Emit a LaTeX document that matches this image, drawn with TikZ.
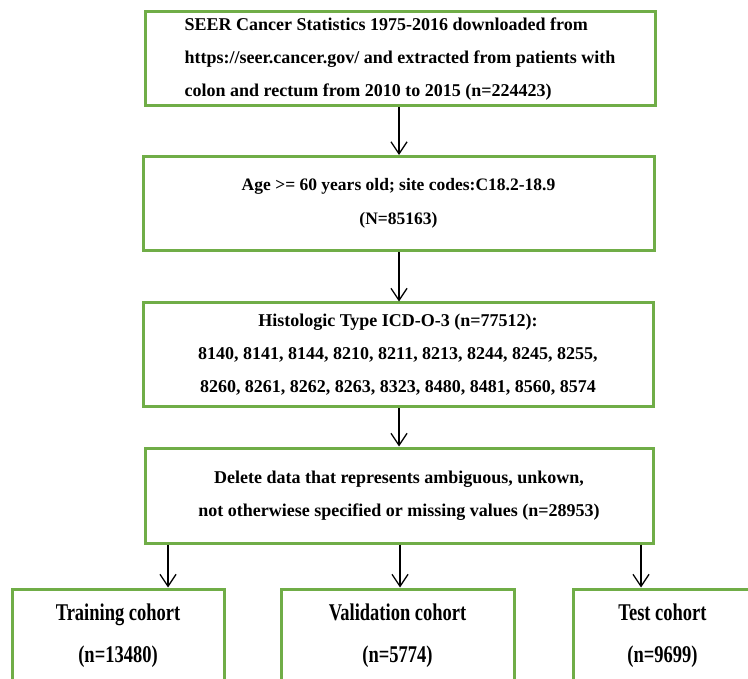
\documentclass[tikz,border=0pt]{standalone}
\usepackage{fontspec}
\setmainfont{Liberation Serif}
\newfontfamily\condfont[FakeStretch=0.77]{Liberation Serif}
\usetikzlibrary{positioning,arrows.meta}
\definecolor{boxgreen}{RGB}{112,173,71}
\tikzset{
  flowarrow/.style={-{Straight Barb[length=12pt,width=16pt]}, line width=1.3pt},
  stepbox/.style={draw=boxgreen, line width=3pt, fill=white, minimum height=94pt, inner sep=0pt, align=center, font=\bfseries\fontsize{18}{33}\selectfont},
  cohortbox/.style={draw=boxgreen, line width=3pt, fill=white, minimum height=94pt, inner sep=0pt, align=center, font=\condfont\bfseries\fontsize{24}{42}\selectfont}
}
\begin{document}
\begin{tikzpicture}[x=1pt, y=-1pt]
      \useasboundingbox (0,0) rectangle (748,679);
      \clip (0,0) rectangle (748,679);
      \node[stepbox, minimum width=510pt, align=left] (seer) at (400,59) {SEER Cancer Statistics 1975-2016 downloaded from\\https://seer.cancer.gov/ and extracted from patients with\\colon and rectum from 2010 to 2015 (n=224423)};
      \node[stepbox, minimum width=511pt, font=\bfseries\fontsize{17.5}{34}\selectfont] (age) at (398.5,203.5) {Age >= 60 years old; site codes:C18.2-18.9\\(N=85163)};
      \node[stepbox, minimum width=510pt, minimum height=104pt] (histo) at (398,355) {Histologic Type ICD-O-3 (n=77512):\\8140, 8141, 8144, 8210, 8211, 8213, 8244, 8245, 8255,\\8260, 8261, 8262, 8263, 8323, 8480, 8481, 8560, 8574};
      \node[stepbox, minimum width=508pt, minimum height=95pt] (clean) at (399,495.5) {Delete data that represents ambiguous, unkown,\\not otherwiese specified or missing values (n=28953)};
      \node[cohortbox, minimum width=212pt] (train) at (118,636) {Training cohort\\(n=13480)};
      \node[cohortbox, minimum width=233pt] (valid) at (397.5,636) {Validation cohort\\(n=5774)};
      \node[cohortbox, minimum width=179pt] (test) at (662.5,636) {Test cohort\\(n=9699)};
      \draw[flowarrow] (seer.south -| 399,0) -- (age.north -| 399,0);
      \draw[flowarrow] (age.south -| 399,0) -- (histo.north -| 399,0);
      \draw[flowarrow] (histo.south -| 399,0) -- (clean.north -| 399,0);
      \draw[flowarrow] (clean.south -| 168,0) -- (train.north -| 168,0);
      \draw[flowarrow] (clean.south -| 400,0) -- (valid.north -| 400,0);
      \draw[flowarrow] (clean.south -| 641,0) -- (test.north -| 641,0);
    \end{tikzpicture}
\end{document}
